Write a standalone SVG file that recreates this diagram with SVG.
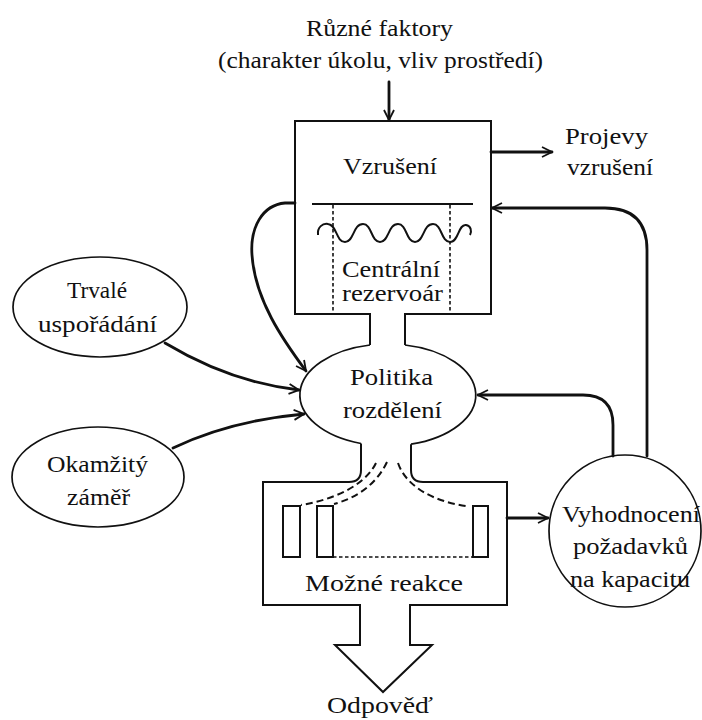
<svg xmlns="http://www.w3.org/2000/svg" width="702" height="720" viewBox="0 0 702 720">
<style>
text{font-family:"Liberation Serif","Times New Roman",serif;font-size:24px;fill:#111}
.sh{fill:none;stroke:#111;stroke-width:2;stroke-linejoin:miter}
.el{fill:none;stroke:#111;stroke-width:1.7}
.cn{fill:none;stroke:#111;stroke-width:2.8;stroke-linecap:round}
.ds{fill:none;stroke:#111;stroke-width:1.6;stroke-dasharray:3.5 2.5}
.dc{fill:none;stroke:#111;stroke-width:2;stroke-dasharray:7 4}
</style>
<defs>
<marker id="ah" viewBox="0 0 12 12" refX="11" refY="6" markerWidth="12" markerHeight="12" markerUnits="userSpaceOnUse" orient="auto">
<path d="M1,1 L11,6 L1,11" fill="none" stroke="#111" stroke-width="1.8"/>
</marker>
</defs>
<rect width="702" height="720" fill="#fff"/>

<g id="factors">
<text x="306" y="36" textLength="147" lengthAdjust="spacingAndGlyphs">Různé faktory</text>
<text x="218" y="68" textLength="325" lengthAdjust="spacingAndGlyphs">(charakter úkolu, vliv prostředí)</text>
</g>

<g id="arousal">
<path class="sh" d="M370,345 L370,314 L295,314 L295,121 L491,121 L491,314 L405,314 L405,345"/>
<text x="343" y="174" textLength="94" lengthAdjust="spacingAndGlyphs">Vzrušení</text>
<line class="sh" x1="312" y1="204" x2="473" y2="204"/>
<line class="ds" x1="333" y1="205" x2="333" y2="313"/>
<line class="ds" x1="450" y1="205" x2="450" y2="313"/>
<path class="sh" d="M318,235 C317,227 323,223 328,224 C337,225 336,242 345,242 C354,242 353,224 363,224 C372,224 371,242 380,242 C389,242 388,224 398,224 C407,224 406,242 415,242 C424,242 423,224 433,224 C442,224 441,242 450,242 C459,242 458,224 466,225 C471,226 472,231 470,235"/>
<text x="342" y="277" textLength="98" lengthAdjust="spacingAndGlyphs">Centrální</text>
<text x="342" y="301" textLength="101" lengthAdjust="spacingAndGlyphs">rezervoár</text>
</g>

<g id="manifestations">
<text x="565" y="144" textLength="83" lengthAdjust="spacingAndGlyphs">Projevy</text>
<text x="567" y="175" textLength="86" lengthAdjust="spacingAndGlyphs">vzrušení</text>
</g>

<g id="policy">
<path class="el" d="M405,345 A88,51 0 0 1 411,444.2 M370,345 A88,51 0 0 0 361,443.5"/>
<text x="350" y="385" textLength="83" lengthAdjust="spacingAndGlyphs">Politika</text>
<text x="343" y="418" textLength="99" lengthAdjust="spacingAndGlyphs">rozdělení</text>
</g>

<g id="dispositions">
<ellipse class="el" cx="100" cy="307" rx="87" ry="50"/>
<text x="67" y="298" textLength="60" lengthAdjust="spacingAndGlyphs">Trvalé</text>
<text x="38" y="332" textLength="119" lengthAdjust="spacingAndGlyphs">uspořádání</text>
</g>

<g id="intentions">
<ellipse class="el" cx="98" cy="477" rx="86" ry="50"/>
<text x="47" y="472" textLength="101" lengthAdjust="spacingAndGlyphs">Okamžitý</text>
<text x="67" y="505" textLength="63" lengthAdjust="spacingAndGlyphs">záměř</text>
</g>

<g id="responses">
<path class="sh" d="M361,443.5 L361,470 Q361,482 349,482 L263,482 L263,605 L360,605 L360,645 L335,645 L383,692 L432,645 L410,645 L410,605 L507,605 L507,482 L423,482 Q411,482 411,470 L411,444.2"/>
<rect class="sh" x="283" y="506" width="17" height="51"/>
<rect class="sh" x="317" y="506" width="16" height="51"/>
<rect class="sh" x="473" y="506" width="15" height="51"/>
<line class="ds" x1="333" y1="557" x2="473" y2="557"/>
<path class="dc" d="M376,463 C365,486 332,500 301,505"/>
<path class="dc" d="M387,462 C376,485 356,498 334,504"/>
<path class="dc" d="M398,463 C406,486 432,501 466,506"/>
<text x="305" y="591" textLength="158" lengthAdjust="spacingAndGlyphs">Možné reakce</text>
<text x="327" y="713" textLength="106" lengthAdjust="spacingAndGlyphs">Odpověď</text>
</g>

<g id="evaluation">
<circle class="el" cx="625" cy="531" r="76"/>
<text x="562" y="522" textLength="138" lengthAdjust="spacingAndGlyphs">Vyhodnocení</text>
<text x="573" y="554" textLength="115" lengthAdjust="spacingAndGlyphs">požadavků</text>
<text x="570" y="587" textLength="120" lengthAdjust="spacingAndGlyphs">na kapacitu</text>
</g>

<g id="connectors">
<path class="cn" d="M389,82 L389,120" marker-end="url(#ah)"/>
<path class="cn" d="M491,152 L552,152" marker-end="url(#ah)"/>
<path class="cn" d="M295,203 L285,203 C262,205 250,228 252,255 C255,300 283,340 306,371" marker-end="url(#ah)"/>
<path class="cn" d="M165,343 C210,370 255,385 299,390" marker-end="url(#ah)"/>
<path class="cn" d="M173,448 C215,428 260,418 304,414" marker-end="url(#ah)"/>
<path class="cn" d="M613,456 L613,425 Q613,395 583,395 L478,395" marker-end="url(#ah)"/>
<path class="cn" d="M647,456 L647,250 Q647,208 605,208 L492,208" marker-end="url(#ah)"/>
<path class="cn" d="M507,518 L548,518" marker-end="url(#ah)"/>
</g>
</svg>
